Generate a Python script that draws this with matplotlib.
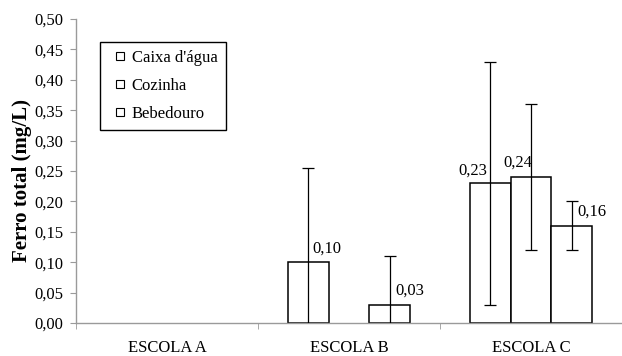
import numpy as np
import matplotlib
matplotlib.use("Agg")
import matplotlib.pyplot as plt
from matplotlib.lines import Line2D
from matplotlib.ticker import FuncFormatter

# ferro total (mg/L) por escola e ponto de coleta
escolas = ["ESCOLA A", "ESCOLA B", "ESCOLA C"]
pontos = ["Caixa d'água", "Cozinha", "Bebedouro"]
caixa = [0.0, 0.10, 0.23]
cozinha = [0.0, 0.0, 0.24]
bebedouro = [0.0, 0.03, 0.16]
caixa_err = [0.0, 0.155, 0.20]
cozinha_err = [0.0, 0.0, 0.12]
bebedouro_err = [0.0, 0.081, 0.04]

plt.rcParams["font.family"] = ["Liberation Serif", "DejaVu Serif"]

fig = plt.figure(figsize=(6.22, 3.56), dpi=100)
ax = fig.add_axes([76 / 622, 33 / 356, 546 / 622, 304 / 356])

largura = 0.225
x = np.arange(len(escolas))
series = [caixa, cozinha, bebedouro]
erros = [caixa_err, cozinha_err, bebedouro_err]
deslocs = [-largura, 0, largura]

# posicao dos rotulos (pixels) relativa ao topo de cada barra, por serie/escola
rot_off = {
    (0, 1): (4, 14, "left"),
    (0, 2): (-3, 13, "right"),
    (1, 2): (-13, 14, "center"),
    (2, 1): (5, 14, "left"),
    (2, 2): (5, 14, "left"),
}

for i, (vals, errs, d) in enumerate(zip(series, erros, deslocs)):
    vals = np.array(vals)
    errs = np.array(errs)
    m = vals > 0
    xs = x[m] + d
    ax.bar(xs, vals[m], width=largura, color="white", edgecolor="black",
           linewidth=1.1, zorder=2)
    ax.errorbar(xs, vals[m], yerr=errs[m], fmt="none", ecolor="black",
                elinewidth=0.9, capsize=4, capthick=0.9, zorder=3)
    for j in np.where(m)[0]:
        dx, dy, ha = rot_off[(i, j)]
        ax.annotate("{:.2f}".format(vals[j]).replace(".", ","),
                    (x[j] + d, vals[j]), textcoords="offset pixels",
                    xytext=(dx, dy), ha=ha, va="center", fontsize=12)

ax.set_xlim(-0.5, 2.5)
ax.set_ylim(0, 0.5)
ax.set_yticks(np.arange(0, 0.501, 0.05))
ax.yaxis.set_major_formatter(FuncFormatter(lambda v, p: "{:.2f}".format(v).replace(".", ",")))
ax.set_xticks(x)
ax.set_xticklabels(escolas)
ax.set_xticks(np.arange(-0.5, 2.6, 1), minor=True)
ax.tick_params(axis="x", which="major", length=0, pad=12.5, labelsize=12)
ax.tick_params(axis="x", which="minor", length=4, color="#9a9a9a", direction="out")
ax.tick_params(axis="y", length=4, color="#9a9a9a", pad=5, labelsize=12)

for s in ["top", "right"]:
    ax.spines[s].set_visible(False)
for s in ["left", "bottom"]:
    ax.spines[s].set_color("#9a9a9a")
    ax.spines[s].set_linewidth(1.0)

fig.text(22 / 622, (356 - 180) / 356, "Ferro total (mg/L)", rotation=90,
         ha="center", va="center", fontsize=15, fontweight="bold")

handles = [Line2D([], [], marker="s", ls="", markersize=6, markerfacecolor="white",
                  markeredgecolor="black", markeredgewidth=0.8) for _ in pontos]
leg = fig.legend(handles, pontos, loc="upper left",
                 bbox_to_anchor=(100 / 622, 314 / 356), fontsize=12,
                 frameon=True, fancybox=False, framealpha=1, edgecolor="black",
                 handlelength=1.4, handletextpad=0.0, labelspacing=0.7,
                 borderpad=0.5, borderaxespad=0)
leg.get_frame().set_linewidth(1.0)

fig.savefig("out.png", dpi=100)
